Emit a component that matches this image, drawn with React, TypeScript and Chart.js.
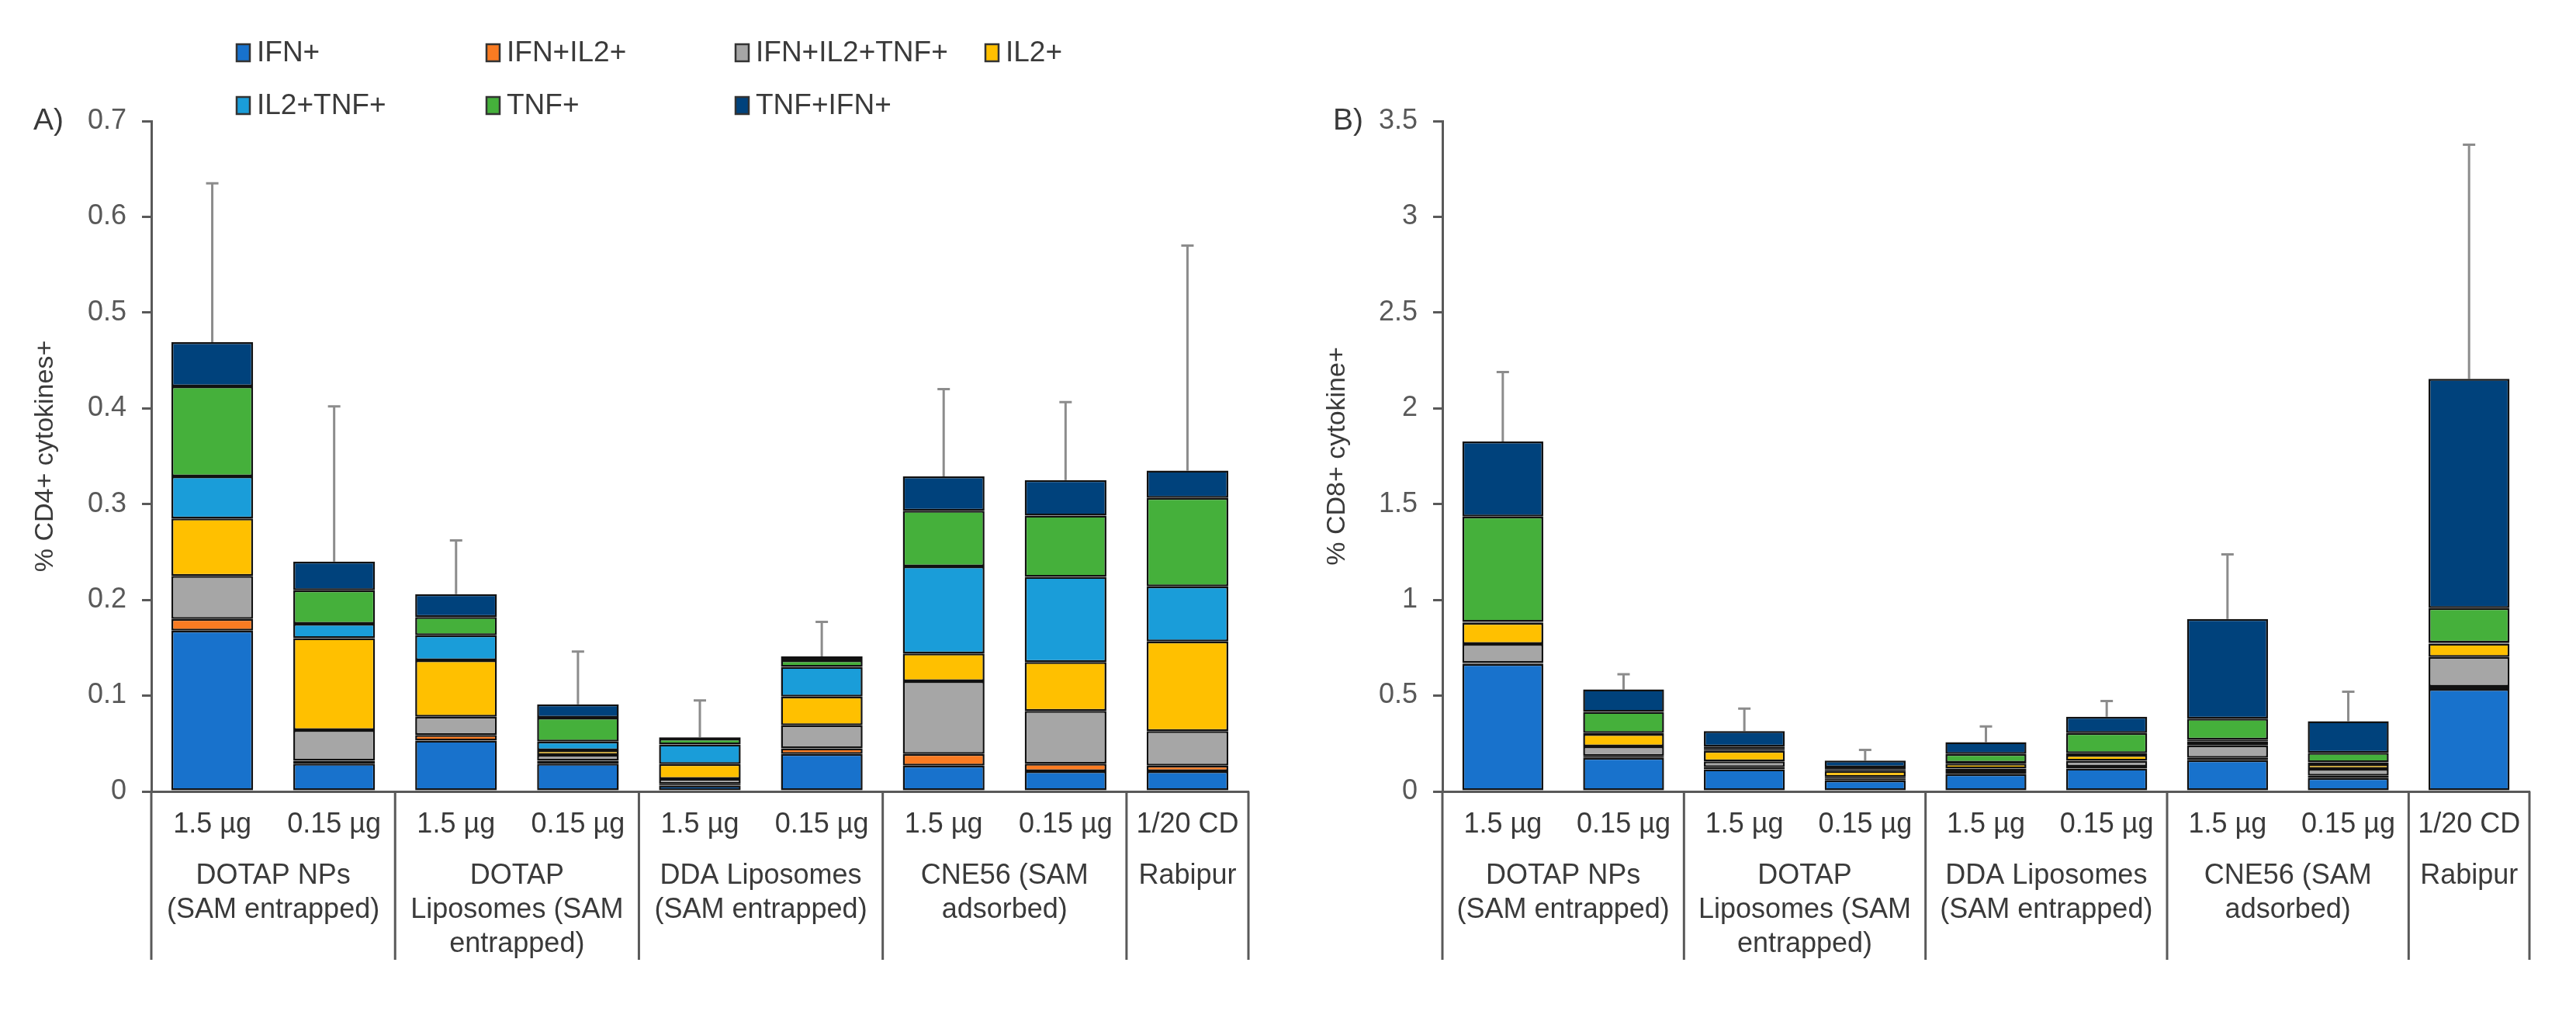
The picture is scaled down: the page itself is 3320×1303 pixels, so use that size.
import React, { useEffect, useRef } from "react";
import { Chart, registerables } from "chart.js";

Chart.register(...registerables);

// ---------- data ----------
const categories = ["1.5 µg", "0.15 µg", "1.5 µg", "0.15 µg", "1.5 µg", "0.15 µg", "1.5 µg", "0.15 µg", "1/20 CD"];
const groupLabels = [
  ["DOTAP NPs", "(SAM entrapped)"],
  ["DOTAP", "Liposomes (SAM", "entrapped)"],
  ["DDA Liposomes", "(SAM entrapped)"],
  ["CNE56 (SAM", "adsorbed)"],
  ["Rabipur"],
];
const groupSizes = [2, 2, 2, 2, 1];

const seriesNames = ["IFN+", "IFN+IL2+", "IFN+IL2+TNF+", "IL2+", "IL2+TNF+", "TNF+", "TNF+IFN+"];
const seriesColors = ["#1872CC", "#F97B22", "#A6A6A6", "#FFC000", "#1A9DD9", "#45B03B", "#00427C"];

// Panel A: % CD4+ cytokines+
const cd4IFN = [0.168, 0.029, 0.053, 0.029, 0.006, 0.039, 0.027, 0.021, 0.021];
const cd4IFNIL2 = [0.012, 0.003, 0.006, 0.003, 0.002, 0.006, 0.012, 0.008, 0.006];
const cd4IFNIL2TNF = [0.045, 0.032, 0.019, 0.006, 0.005, 0.024, 0.076, 0.055, 0.036];
const cd4IL2 = [0.06, 0.096, 0.059, 0.005, 0.0155, 0.03, 0.029, 0.051, 0.0935];
const cd4IL2TNF = [0.044, 0.015, 0.026, 0.009, 0.0205, 0.031, 0.091, 0.089, 0.0575];
const cd4TNF = [0.094, 0.035, 0.019, 0.025, 0.006, 0.007, 0.058, 0.064, 0.0925];
const cd4TNFIFN = [0.046, 0.03, 0.024, 0.014, 0.0015, 0.004, 0.036, 0.037, 0.0285];
const cd4ErrorTop = [0.635, 0.402, 0.262, 0.146, 0.095, 0.177, 0.42, 0.4065, 0.57];

// Panel B: % CD8+ cytokine+
const cd8IFN = [0.665, 0.175, 0.115, 0.058, 0.09, 0.12, 0.163, 0.07, 0.535];
const cd8IFNIL2 = [0.005, 0.01, 0.012, 0.008, 0.015, 0.01, 0.012, 0.012, 0.012];
const cd8IFNIL2TNF = [0.1, 0.05, 0.03, 0.01, 0.015, 0.03, 0.065, 0.035, 0.155];
const cd8IL2 = [0.11, 0.065, 0.055, 0.03, 0.025, 0.03, 0.02, 0.025, 0.07];
const cd8IL2TNF = [0.005, 0.005, 0.01, 0.01, 0.005, 0.01, 0.01, 0.01, 0.005];
const cd8TNF = [0.55, 0.11, 0.012, 0.01, 0.045, 0.105, 0.11, 0.05, 0.18];
const cd8TNFIFN = [0.392, 0.118, 0.081, 0.035, 0.062, 0.085, 0.52, 0.165, 1.197];
const cd8ErrorTop = [2.19, 0.612, 0.432, 0.217, 0.339, 0.472, 1.238, 0.521, 3.376];

const yTicksA = { max: 0.7, step: 0.1 };
const yTicksB = { max: 3.5, step: 0.5 };

// ---------- styling ----------
const FONT = "'Liberation Sans', Arial, sans-serif";
const TEXT = "#3A3A3A";
const AXIS = "#595959";

type PanelCfg = {
  tag: string;
  tagX: number;
  yTitle: string;
  series: number[][];
  err: number[];
  yMax: number;
  yStep: number;
  axisWidth: number;
  padRight: number;
  titlePad: number;
  legend: boolean;
};

function decorPlugin(cfg: PanelCfg) {
  return {
    id: "decor" + cfg.tag,
    beforeDatasetsDraw(chart: any) {
      const { ctx } = chart;
      const xs = chart.scales.x;
      const ys = chart.scales.y;
      ctx.save();
      ctx.strokeStyle = "#8C8C8C";
      ctx.lineWidth = 3;
      for (let i = 0; i < categories.length; i++) {
        let total = 0;
        chart.data.datasets.forEach((d: any) => (total += d.data[i]));
        const px = xs.getPixelForValue(i);
        const y0 = ys.getPixelForValue(total);
        const y1 = ys.getPixelForValue(cfg.err[i]);
        ctx.beginPath();
        ctx.moveTo(px, y0);
        ctx.lineTo(px, y1);
        ctx.moveTo(px - 8, y1);
        ctx.lineTo(px + 8, y1);
        ctx.stroke();
      }
      ctx.restore();
    },
    afterDraw(chart: any) {
      const { ctx, chartArea } = chart;
      const xs = chart.scales.x;
      const step = xs.getPixelForValue(1) - xs.getPixelForValue(0);
      const bottom = chartArea.bottom;
      ctx.save();
      // group separators
      ctx.strokeStyle = AXIS;
      ctx.lineWidth = 3;
      let k = 0;
      const bounds: number[] = [0];
      groupSizes.forEach((s) => {
        k += s;
        bounds.push(k);
      });
      bounds.forEach((b) => {
        const bx = xs.getPixelForValue(b) - step / 2;
        ctx.beginPath();
        ctx.moveTo(bx, bottom);
        ctx.lineTo(bx, bottom + 217);
        ctx.stroke();
      });
      // dose labels
      ctx.fillStyle = TEXT;
      ctx.font = `36px ${FONT}`;
      ctx.textAlign = "center";
      ctx.textBaseline = "middle";
      categories.forEach((c, i) => {
        ctx.fillText(c, xs.getPixelForValue(i), bottom + 43);
      });
      // group labels
      for (let g = 0; g < groupLabels.length; g++) {
        const cx = (xs.getPixelForValue(bounds[g]) + xs.getPixelForValue(bounds[g + 1]) - step) / 2;
        groupLabels[g].forEach((line, li) => {
          ctx.fillText(line, cx, bottom + 109 + li * 44);
        });
      }
      // panel tag
      ctx.textAlign = "left";
      ctx.font = `39px ${FONT}`;
      ctx.fillText(cfg.tag + ")", cfg.tagX, chartArea.top);
      // legend
      if (cfg.legend) {
        const colX = [305, 627, 948, 1270];
        const rowY = [68, 136];
        ctx.font = `37px ${FONT}`;
        chart.data.datasets.forEach((d: any, i: number) => {
          const cxl = colX[i % 4];
          const cyl = rowY[Math.floor(i / 4)];
          ctx.fillStyle = d.backgroundColor;
          ctx.fillRect(cxl, cyl - 11, 17, 22);
          ctx.strokeStyle = "#333333";
          ctx.lineWidth = 2.5;
          ctx.strokeRect(cxl, cyl - 11, 17, 22);
          ctx.fillStyle = TEXT;
          ctx.fillText(d.label, cxl + 26, cyl + 1);
        });
      }
      ctx.restore();
    },
  };
}

function fmtTick(v: any) {
  return String(parseFloat(Number(v).toFixed(2)));
}

function makeChart(canvas: HTMLCanvasElement, cfg: PanelCfg) {
  return new Chart(canvas, {
    type: "bar",
    data: {
      labels: categories,
      datasets: cfg.series.map((s, i) => ({
        label: seriesNames[i],
        data: s,
        backgroundColor: seriesColors[i],
        borderColor: "#111111",
        borderWidth: 2.5,
        borderSkipped: false,
        barPercentage: 0.67,
        categoryPercentage: 1.0,
      })),
    },
    options: {
      responsive: false,
      animation: false,
      events: [],
      layout: { padding: { left: 0, right: cfg.padRight, top: 156, bottom: 0 } },
      plugins: { legend: { display: false }, tooltip: { enabled: false } },
      scales: {
        x: {
          stacked: true,
          grid: { display: false, drawTicks: false },
          ticks: { display: false },
          border: { display: true, color: AXIS, width: 3 },
          afterFit: (s: any) => {
            s.height = 283;
          },
        },
        y: {
          stacked: true,
          min: 0,
          max: cfg.yMax,
          ticks: {
            stepSize: cfg.yStep,
            color: AXIS,
            font: { size: 36, family: FONT },
            padding: 20,
            callback: (v: any) => fmtTick(v),
          },
          grid: {
            drawOnChartArea: false,
            drawTicks: true,
            tickLength: 12,
            color: AXIS,
            lineWidth: 3,
          },
          border: { display: true, color: AXIS, width: 3 },
          title: {
            display: true,
            text: cfg.yTitle,
            color: TEXT,
            font: { size: 34, family: FONT },
            padding: { top: cfg.titlePad, bottom: 0 },
          },
          afterFit: (s: any) => {
            s.width = cfg.axisWidth;
          },
        },
      },
    },
    plugins: [decorPlugin(cfg)],
  } as any);
}

export default function App() {
  const refA = useRef<HTMLCanvasElement>(null);
  const refB = useRef<HTMLCanvasElement>(null);

  useEffect(() => {
    Chart.defaults.font.family = FONT;
    const a = makeChart(refA.current!, {
      tag: "A",
      tagX: 43,
      yTitle: "% CD4+ cytokines+",
      series: [cd4IFN, cd4IFNIL2, cd4IFNIL2TNF, cd4IL2, cd4IL2TNF, cd4TNF, cd4TNFIFN],
      err: cd4ErrorTop,
      yMax: yTicksA.max,
      yStep: yTicksA.step,
      axisWidth: 195,
      padRight: 51,
      titlePad: 38,
      legend: true,
    });
    const b = makeChart(refB.current!, {
      tag: "B",
      tagX: 58,
      yTitle: "% CD8+ cytokine+",
      series: [cd8IFN, cd8IFNIL2, cd8IFNIL2TNF, cd8IL2, cd8IL2TNF, cd8TNF, cd8TNFIFN],
      err: cd8ErrorTop,
      yMax: yTicksB.max,
      yStep: yTicksB.step,
      axisWidth: 199,
      padRight: 60,
      titlePad: 43,
      legend: false,
    });
    return () => {
      a.destroy();
      b.destroy();
    };
  }, []);

  return (
    <div style={{ position: "absolute", left: 0, top: 0, width: 3320, height: 1303, background: "#fff" }}>
      <canvas ref={refA} width={1660} height={1303} style={{ position: "absolute", left: 0, top: 0, width: 1660, height: 1303 }} />
      <canvas ref={refB} width={1660} height={1303} style={{ position: "absolute", left: 1660, top: 0, width: 1660, height: 1303 }} />
    </div>
  );
}
